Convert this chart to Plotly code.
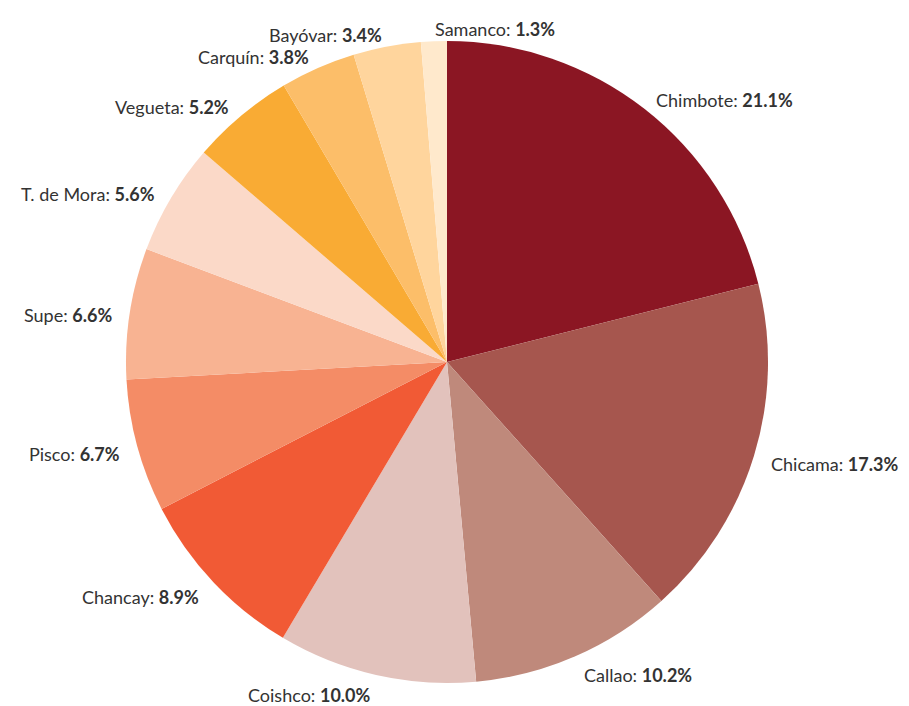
import math
import plotly.graph_objects as go

ports = ["Chimbote", "Chicama", "Callao", "Coishco", "Chancay", "Pisco", "Supe",
         "T. de Mora", "Vegueta", "Carquín", "Bayóvar", "Samanco"]
shares = [21.1, 17.3, 10.2, 10.0, 8.9, 6.7, 6.6, 5.6, 5.2, 3.8, 3.4, 1.3]
colors = ["#8B1623", "#A6564E", "#BF897B", "#E2C2BC", "#F15A35", "#F48C66",
          "#F8B392", "#FBD9C8", "#F9AB34", "#FCBE69", "#FFD59D", "#FFE9CC"]

W, H = 909, 706
font_family = "Lato, Open Sans, sans-serif"
dom_x = [0.1298, 0.8361]
dom_y = [0.0439, 0.9533]

fig = go.Figure(go.Pie(
    labels=ports,
    values=shares,
    textinfo="none",
    automargin=False,
    sort=False,
    direction="clockwise",
    rotation=0,
    marker=dict(colors=colors, line=dict(width=0)),
    domain=dict(x=dom_x, y=dom_y),
    showlegend=False,
    hoverinfo="label+value",
))

# outside labels placed along each slice's mid-angle
cx = sum(dom_x) / 2
cy = sum(dom_y) / 2
radius_px = min((dom_x[1] - dom_x[0]) * W, (dom_y[1] - dom_y[0]) * H) / 2
label_r = radius_px * 1.05
total = sum(shares)
cum = 0.0
annotations = []
for name, val in zip(ports, shares):
    mid = (cum + val / 2) / total * 2 * math.pi
    cum += val
    s, c = math.sin(mid), math.cos(mid)
    annotations.append(dict(
        x=cx + label_r * s / W,
        y=cy + label_r * c / H,
        xref="paper", yref="paper",
        text=f"{name}: <b>{val:.1f}%</b>",
        showarrow=False,
        xanchor="left" if s > -0.1 else "right",
        yanchor="middle",
        yshift=-4,
        font=dict(family=font_family, size=18, color="#333333"),
    ))

fig.update_layout(
    width=W, height=H,
    autosize=False,
    margin=dict(l=0, r=0, t=0, b=0, autoexpand=False),
    paper_bgcolor="white",
    plot_bgcolor="white",
    showlegend=False,
    annotations=annotations,
)

fig.write_html("out.html")
